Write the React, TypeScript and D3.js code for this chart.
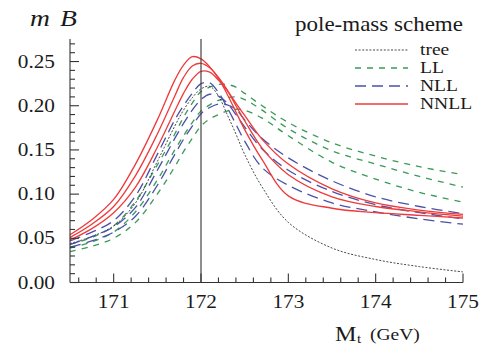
import * as d3 from 'd3';

// top-quark mass grid (GeV) the curves are sampled on
const mGrid = [170.5, 170.75, 171, 171.25, 171.5, 171.7, 171.8, 171.9, 172.0, 172.1, 172.2, 172.3, 172.4, 172.5, 172.7, 173, 173.5, 174, 174.5, 175];

const tree = [0.044, 0.052, 0.064, 0.090, 0.137, 0.177, 0.195, 0.209, 0.219, 0.222, 0.211, 0.190, 0.168, 0.145, 0.108, 0.068, 0.039, 0.026, 0.018, 0.012];

const ll1 = [0.043, 0.051, 0.064, 0.092, 0.133, 0.168, 0.187, 0.203, 0.216, 0.221, 0.224, 0.224, 0.221, 0.214, 0.200, 0.181, 0.158, 0.143, 0.131, 0.122];
const ll2 = [0.039, 0.046, 0.057, 0.080, 0.116, 0.150, 0.166, 0.181, 0.194, 0.201, 0.206, 0.209, 0.210, 0.207, 0.195, 0.174, 0.149, 0.134, 0.120, 0.108];
const ll3 = [0.035, 0.041, 0.050, 0.068, 0.100, 0.131, 0.148, 0.163, 0.177, 0.185, 0.190, 0.194, 0.196, 0.195, 0.186, 0.166, 0.136, 0.117, 0.102, 0.091];

const nll1 = [0.047, 0.057, 0.070, 0.098, 0.145, 0.184, 0.200, 0.214, 0.225, 0.226, 0.215, 0.198, 0.179, 0.160, 0.130, 0.110, 0.090, 0.080, 0.072, 0.066];
const nll2 = [0.043, 0.052, 0.063, 0.085, 0.127, 0.163, 0.180, 0.195, 0.207, 0.213, 0.211, 0.203, 0.190, 0.176, 0.151, 0.127, 0.103, 0.088, 0.079, 0.072];
const nll3 = [0.040, 0.047, 0.057, 0.075, 0.110, 0.145, 0.162, 0.177, 0.191, 0.198, 0.202, 0.201, 0.196, 0.184, 0.163, 0.141, 0.115, 0.097, 0.086, 0.078];

const nnll1 = [0.054, 0.071, 0.094, 0.134, 0.184, 0.229, 0.246, 0.2555, 0.253, 0.244, 0.231, 0.213, 0.193, 0.173, 0.139, 0.098, 0.084, 0.079, 0.076, 0.073];
const nnll2 = [0.051, 0.066, 0.086, 0.121, 0.168, 0.211, 0.232, 0.245, 0.248, 0.243, 0.232, 0.218, 0.200, 0.183, 0.152, 0.122, 0.097, 0.086, 0.080, 0.075];
const nnll3 = [0.048, 0.061, 0.079, 0.108, 0.153, 0.194, 0.214, 0.230, 0.239, 0.238, 0.229, 0.217, 0.203, 0.189, 0.162, 0.134, 0.106, 0.090, 0.082, 0.077];

const xTickValues = [171, 172, 173, 174, 175];
const xTickLabels = ['171', '172', '173', '174', '175'];
const yTickValues = [0, 0.05, 0.1, 0.15, 0.2, 0.25];
const yTickLabels = ['0.00', '0.05', '0.10', '0.15', '0.20', '0.25'];
const markedMass = 172;

const legendNames = ['tree', 'LL', 'NLL', 'NNLL'];

const W = 479;
const H = 347;
const FONT = '"Liberation Serif", "Times New Roman", serif';
const SX = 1.15; // the original lettering is a bit wide

const x = d3.scaleLinear().domain([170.5, 175]).range([70, 463]);
const y = d3.scaleLinear().domain([0, 0.2755]).range([282.5, 39]);

const styles: Record<string, { stroke: string; dash?: string; width: number }> = {
  tree: { stroke: '#333', dash: '2,1.6', width: 0.9 },
  LL: { stroke: '#3a9a58', dash: '6,6', width: 1.3 },
  NLL: { stroke: '#4a52a6', dash: '11,6', width: 1.3 },
  NNLL: { stroke: '#ee3a3a', width: 1.3 },
};

const series: { kind: string; values: number[] }[] = [
  { kind: 'LL', values: ll1 },
  { kind: 'LL', values: ll2 },
  { kind: 'LL', values: ll3 },
  { kind: 'tree', values: tree },
  { kind: 'NLL', values: nll1 },
  { kind: 'NLL', values: nll2 },
  { kind: 'NLL', values: nll3 },
  { kind: 'NNLL', values: nnll1 },
  { kind: 'NNLL', values: nnll2 },
  { kind: 'NNLL', values: nnll3 },
];

const line = d3
  .line<number>()
  .x((_, i) => x(mGrid[i]))
  .y((d) => y(d))
  .curve(d3.curveCatmullRom.alpha(0.5));

function SText({ x, y, size, children, anchor = 'start', italic = false }: any) {
  return (
    <text
      transform={`translate(${x},${y}) scale(${SX},1)`}
      fontFamily={FONT}
      fontSize={size}
      fontStyle={italic ? 'italic' : 'normal'}
      textAnchor={anchor}
      fill="#1a1a1a"
    >
      {children}
    </text>
  );
}

export default function App() {
  const x0 = x.range()[0];
  const y0 = y.range()[0];
  const yTop = y.range()[1];

  const yMinor = d3.range(0, 0.2755, 0.01).filter((v) => Math.abs(v / 0.05 - Math.round(v / 0.05)) > 1e-6);
  const xMinor = d3.range(170.6, 175.001, 0.2).filter((v) => Math.abs(v - Math.round(v)) > 1e-6);

  return (
    <svg width={W} height={H} style={{ position: 'absolute', left: 0, top: 0, background: '#fff' }}>
      {/* curves */}
      <g fill="none">
        {series.map((s, i) => {
          const st = styles[s.kind];
          return (
            <path
              key={i}
              d={line(s.values) || ''}
              stroke={st.stroke}
              strokeWidth={st.width}
              strokeDasharray={st.dash}
            />
          );
        })}
      </g>

      {/* vertical marker */}
      <line x1={x(markedMass)} x2={x(markedMass)} y1={yTop} y2={y0} stroke="#444" strokeWidth={1.2} />

      {/* axes */}
      <g stroke="#333" strokeWidth={1.1}>
        <line x1={x0} x2={x0} y1={yTop} y2={y0} />
        <line x1={x0} x2={x.range()[1]} y1={y0} y2={y0} />
        {yTickValues.map((v) => (
          <line key={'ym' + v} x1={x0} x2={x0 + 9} y1={y(v)} y2={y(v)} />
        ))}
        {yMinor.map((v) => (
          <line key={'yn' + v} x1={x0} x2={x0 + 5} y1={y(v)} y2={y(v)} />
        ))}
        {xTickValues.map((v) => (
          <line key={'xm' + v} x1={x(v)} x2={x(v)} y1={y0} y2={y0 - 9} />
        ))}
        {xMinor.map((v) => (
          <line key={'xn' + v} x1={x(v)} x2={x(v)} y1={y0} y2={y0 - 5} />
        ))}
      </g>

      {yTickValues.map((v, i) => (
        <SText key={'yl' + v} x={55} y={y(v) + 6} size={18.5} anchor="end">
          {yTickLabels[i]}
        </SText>
      ))}
      {xTickValues.map((v, i) => (
        <SText key={'xl' + v} x={x(v)} y={308} size={18.5} anchor="middle">
          {xTickLabels[i]}
        </SText>
      ))}

      {/* axis titles */}
      <SText x={30} y={26} size={24} italic>m</SText>
      <SText x={60} y={26} size={24} italic>B</SText>
      <SText x={335} y={341} size={21}>M</SText>
      <SText x={357} y={343} size={13}>t</SText>
      <SText x={370} y={340} size={17}>(GeV)</SText>

      {/* legend */}
      <SText x={295} y={31} size={20}>pole-mass scheme</SText>
      {legendNames.map((name, i) => {
        const st = styles[name];
        const ly = 50 + i * 18;
        return (
          <g key={name}>
            <line
              x1={355}
              x2={408}
              y1={ly}
              y2={ly}
              stroke={st.stroke}
              strokeWidth={st.width}
              strokeDasharray={st.dash}
            />
            <SText x={420} y={ly + 5} size={17}>{name}</SText>
          </g>
        );
      })}
    </svg>
  );
}
